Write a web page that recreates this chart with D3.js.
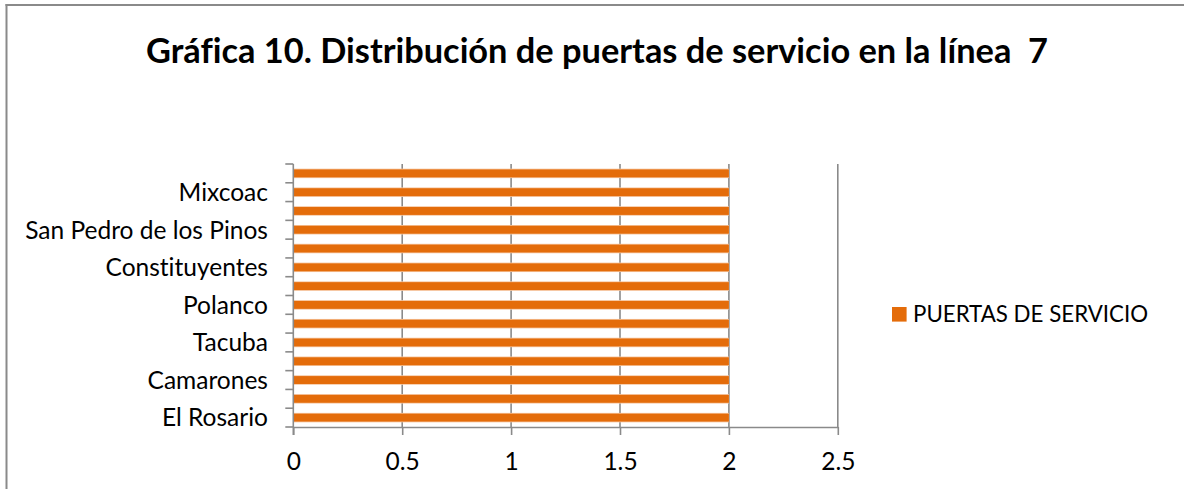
<!DOCTYPE html>
<html>
<head>
<meta charset="utf-8">
<script src="https://cdn.jsdelivr.net/npm/d3@7/dist/d3.min.js"></script>
<style>
  html, body { margin: 0; padding: 0; background: #fff; overflow: hidden; }
  svg { display: block; }
  text { font-family: Lato, "Open Sans", sans-serif; fill: #000; font-variant-ligatures: none; font-feature-settings: "liga" 0; }
</style>
</head>
<body>
<svg id="chart" width="1184" height="489"></svg>
<script>
const title = "Gráfica 10. Distribución de puertas de servicio en la línea  7";
const categories = ["El Rosario", "Aquiles Serdán", "Camarones", "Refinería", "Tacuba",
  "San Joaquín", "Polanco", "Auditorio", "Constituyentes", "Tacubaya",
  "San Pedro de los Pinos", "San Antonio", "Mixcoac", "Barranca del Muerto"];
const puertasServicio = [2, 2, 2, 2, 2, 2, 2, 2, 2, 2, 2, 2, 2, 2];
const xTicks = [0, 0.5, 1, 1.5, 2, 2.5];
const seriesName = "PUERTAS DE SERVICIO";

(function () {
const svg = d3.select("#chart");
const W = 1184, H = 489;
const orange = "#E46C0A";
const grey = "#8A8A8A";

function fitWidth(sel, target) {
  const w = sel.node().getComputedTextLength();
  const fs = parseFloat(sel.attr("font-size"));
  sel.attr("font-size", (fs * target / w).toFixed(2));
}

// white background
svg.append("rect").attr("x", 0).attr("y", 0).attr("width", W).attr("height", H).attr("fill", "#fff");

// outer frame: left and top edges only
svg.append("line")
  .attr("x1", 6.5).attr("x2", 6.5).attr("y1", 4).attr("y2", H)
  .attr("stroke", grey).attr("stroke-width", 2);
svg.append("line")
  .attr("x1", 5.5).attr("x2", W).attr("y1", 5).attr("y2", 5)
  .attr("stroke", grey).attr("stroke-width", 2);

// title
const t = svg.append("text")
  .attr("x", 597).attr("y", 63)
  .attr("text-anchor", "middle")
  .attr("font-weight", "bold")
  .attr("font-size", 36)
  .attr("xml:space", "preserve")
  .style("white-space", "pre")
  .text(title);
fitWidth(t, 902);

const pL = 293.3, pR = 837.8, pT = 164, pB = 427;

const x = d3.scaleLinear().domain([0, 2.5]).range([pL, pR]);
const y = d3.scaleBand().domain(categories).range([pB, pT]).paddingInner(0.58).paddingOuter(0.29);
const yb = d3.scaleBand().domain(categories).range([pB, pT]);

// vertical gridlines
svg.append("g").selectAll("line")
  .data(xTicks.filter(d => d > 0))
  .join("line")
  .attr("x1", d => x(d)).attr("x2", d => x(d))
  .attr("y1", pT).attr("y2", pB)
  .attr("stroke", grey).attr("stroke-width", 1.6);

// bars
const bars = svg.append("g");
bars.selectAll("rect.edge")
  .data(categories)
  .join("rect")
  .attr("class", "edge")
  .attr("x", x(0))
  .attr("y", d => y(d) - 0.8)
  .attr("width", (d, i) => x(puertasServicio[i]) - x(0))
  .attr("height", y.bandwidth() + 1.6)
  .attr("fill", "#F6C6A0");
bars.selectAll("rect.bar")
  .data(categories)
  .join("rect")
  .attr("class", "bar")
  .attr("x", x(0))
  .attr("y", d => y(d))
  .attr("width", (d, i) => x(puertasServicio[i]) - x(0))
  .attr("height", y.bandwidth())
  .attr("fill", orange);

// x axis
const xAxis = svg.append("g")
  .attr("transform", `translate(0,${pB})`)
  .call(d3.axisBottom(x).tickValues(xTicks).tickSize(8).tickSizeOuter(0).tickPadding(18)
    .tickFormat(d => String(d)));
xAxis.select(".domain").attr("stroke", grey).attr("stroke-width", 1.6);
xAxis.selectAll(".tick line").attr("stroke", grey).attr("stroke-width", 1.6);
xAxis.selectAll(".tick text")
  .attr("font-size", 23).attr("font-family", "Lato, sans-serif").attr("fill", "#000");

// y axis line
svg.append("line")
  .attr("x1", pL).attr("x2", pL).attr("y1", pT).attr("y2", pB + 8)
  .attr("stroke", grey).attr("stroke-width", 1.6);

// y tick marks at category boundaries
const bounds = categories.map(c => yb(c)).concat([yb(categories[0]) + yb.bandwidth()]);
svg.append("g").selectAll("line")
  .data(bounds)
  .join("line")
  .attr("x1", pL - 8).attr("x2", pL)
  .attr("y1", d => d).attr("y2", d => d)
  .attr("stroke", grey).attr("stroke-width", 1.6);

// y labels (every second category)
const yl = svg.append("g").selectAll("text")
  .data(categories.filter((c, i) => i % 2 === 0))
  .join("text")
  .attr("x", 268)
  .attr("y", d => yb(d) + yb.bandwidth() / 2)
  .attr("dy", "0.36em")
  .attr("text-anchor", "end")
  .attr("font-size", 23)
  .text(d => d);
const sp = yl.filter(d => d === "San Pedro de los Pinos");
const base = sp.node().getComputedTextLength();
const fsY = 23 * 243 / base;
yl.attr("font-size", fsY.toFixed(2));
xAxis.selectAll(".tick text").attr("font-size", fsY.toFixed(2));

// legend
svg.append("rect")
  .attr("x", 892).attr("y", 307).attr("width", 14.6).attr("height", 14.6)
  .attr("fill", orange);
const lt = svg.append("text")
  .attr("x", 913).attr("y", 322)
  .attr("font-size", 23)
  .text(seriesName);
fitWidth(lt, 235);
})();
</script>
</body>
</html>
